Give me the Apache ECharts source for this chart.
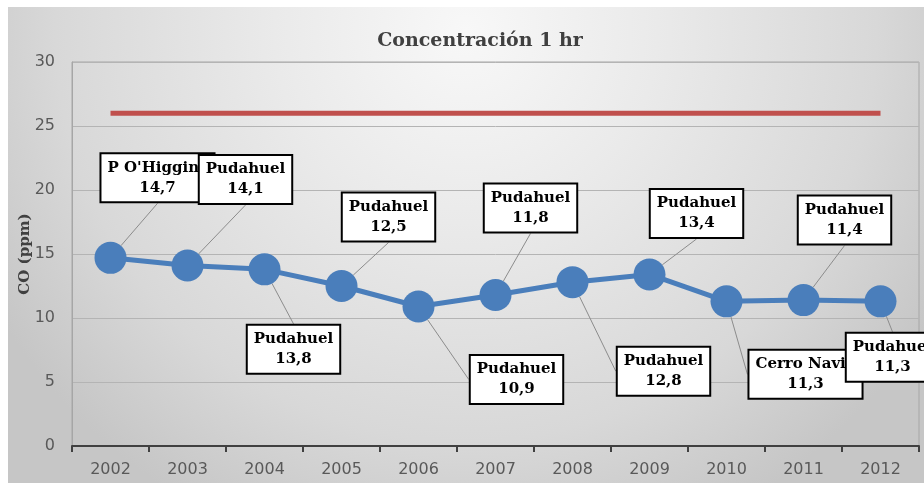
<!DOCTYPE html>
<html><head><meta charset="utf-8">
<script src="https://cdn.jsdelivr.net/npm/echarts@6/dist/echarts.min.js"></script>
<style>html,body{margin:0;padding:0;background:#fff}#c{width:924px;height:483px}</style>
</head><body><div id="c"></div>
<script>
const years = ['2002','2003','2004','2005','2006','2007','2008','2009','2010','2011','2012'];
const coValues = [14.7, 14.1, 13.8, 12.5, 10.9, 11.8, 12.8, 13.4, 11.3, 11.4, 11.3];
const stations = ["P O'Higgins",'Pudahuel','Pudahuel','Pudahuel','Pudahuel','Pudahuel','Pudahuel','Pudahuel','Cerro Navia','Pudahuel','Pudahuel'];
const normValues = [26, 26, 26, 26, 26, 26, 26, 26, 26, 26, 26];
const yMin = 0, yMax = 30, yStep = 5;

// label box offsets from each point (pixels) and whether its leader has a horizontal kink
const labelOffsets = [[47,-80],[58,-86],[29,80],[47,-69],[98,73],[35,-87],[91,89],[47,-61],[79,73],[41,-80],[12,56]];
const kinkLeader = [false,false,false,false,true,false,true,false,true,false,false];

const chart = echarts.init(document.getElementById('c'));
const symbolR = 16;

chart.setOption({
  animation: false,
  backgroundColor: '#ffffff',
  graphic: [{
    type: 'rect', left: 8, top: 7, z: -100, silent: true,
    shape: {width: 916, height: 476},
    style: {
      fill: {
        type: 'radial', x: 0.5, y: 0.05, r: 1.15,
        colorStops: [{offset: 0, color: '#f8f8f8'}, {offset: 0.35, color: '#eaeaea'}, {offset: 0.75, color: '#d8d8d8'}, {offset: 1, color: '#c6c6c6'}]
      }
    }
  }],
  title: {
    text: 'Concentración 1 hr',
    left: 475, top: 27, textAlign: 'center',
    textStyle: {fontFamily: 'DejaVu Serif', fontWeight: 'bold', fontSize: 19, color: '#404040'}
  },
  grid: {left: 72, right: 5, top: 62, bottom: 37, show: true, borderColor: '#a6a6a6', borderWidth: 1, backgroundColor: 'transparent'},
  xAxis: {
    type: 'category', data: years, boundaryGap: true,
    axisLine: {lineStyle: {color: '#404040', width: 2}},
    axisTick: {show: true, length: 6, lineStyle: {color: '#404040', width: 2}},
    axisLabel: {fontFamily: 'DejaVu Sans', fontSize: 16, color: '#595959', margin: 16}
  },
  yAxis: {
    type: 'value', min: yMin, max: yMax, interval: yStep,
    name: 'CO (ppm)', nameLocation: 'middle', nameGap: 39, nameMoveOverlap: false,
    nameTextStyle: {fontFamily: 'DejaVu Serif', fontWeight: 'bold', fontSize: 15, color: '#404040'},
    axisLine: {show: true, lineStyle: {color: '#a6a6a6', width: 1}},
    axisTick: {show: false},
    axisLabel: {fontFamily: 'DejaVu Sans', fontSize: 16, color: '#595959', margin: 17},
    splitLine: {lineStyle: {color: '#b4b4b4', width: 1}}
  },
  series: [
    {
      name: 'Norma', type: 'line', data: normValues, symbol: 'none',
      lineStyle: {color: '#c0504d', width: 5}, z: 2
    },
    {
      name: 'CO', type: 'line', data: coValues, symbol: 'circle', symbolSize: symbolR * 2,
      itemStyle: {color: '#4a7ebb'}, lineStyle: {color: '#4a7ebb', width: 5}, z: 3,
      label: {
        show: true, position: 'top',
        formatter: p => stations[p.dataIndex] + '\n' + String(p.value).replace('.', ','),
        fontFamily: 'DejaVu Serif', fontWeight: 'bold', fontSize: 15, color: '#000',
        lineHeight: 20, align: 'center',
        backgroundColor: '#ffffff', borderColor: '#000000', borderWidth: 2,
        padding: [4, 6, 3, 6]
      },
      labelLine: {show: true, lineStyle: {color: '#8c8c8c', width: 1}},
      labelLayout: function (params) {
        const i = params.dataIndex;
        const cx = params.rect.x + params.rect.width / 2;
        const cy = params.rect.y + params.rect.height / 2;
        const lx = cx + labelOffsets[i][0];
        const ly = cy + labelOffsets[i][1];
        const hw = params.labelRect.width / 2, hh = params.labelRect.height / 2;
        let pts;
        if (kinkLeader[i]) {
          const kx = lx - hw - 9;
          const dxs = kx - cx, dys = ly - cy, d = Math.hypot(dxs, dys);
          pts = [[cx + dxs / d * symbolR, cy + dys / d * symbolR], [kx, ly], [lx - hw, ly]];
        } else {
          const ey = labelOffsets[i][1] < 0 ? ly + hh : ly - hh;
          const dxs = lx - cx, dys = ey - cy, d = Math.hypot(dxs, dys);
          const sx = cx + dxs / d * symbolR, sy = cy + dys / d * symbolR;
          pts = [[sx, sy], [(sx + lx) / 2, (sy + ey) / 2], [lx, ey]];
        }
        return {x: lx, y: ly, align: 'center', verticalAlign: 'middle', labelLinePoints: pts};
      }
    }
  ]
});
</script></body></html>
